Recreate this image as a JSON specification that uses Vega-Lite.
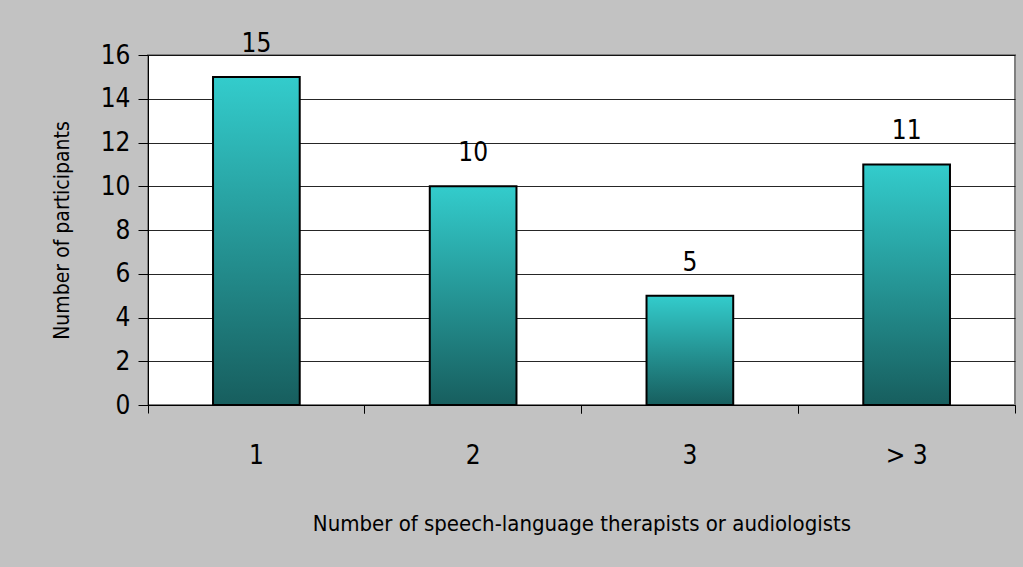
{
  "$schema": "https://vega.github.io/schema/vega-lite/v6.json",
  "width": 867,
  "height": 350,
  "autosize": "none",
  "padding": {"left": 148, "top": 55, "right": 8, "bottom": 162},
  "background": "#c2c2c2",
  "config": {
    "font": "Liberation Sans Narrow, DejaVu Sans Condensed, Roboto, sans-serif",
    "view": {"fill": "white", "stroke": "#808080", "strokeWidth": 2}
  },
  "data": {
    "values": [
      {"group": "1", "participants": 15},
      {"group": "2", "participants": 10},
      {"group": "3", "participants": 5},
      {"group": "> 3", "participants": 11}
    ]
  },
  "encoding": {
    "y": {
      "field": "participants",
      "type": "quantitative",
      "scale": {"domain": [0, 16]},
      "axis": {
        "title": "Number of participants",
        "titleFontSize": 21,
        "titleFontWeight": "normal",
        "titleColor": "black",
        "titleX": -86,
        "titleY": 175,
        "titleBaseline": "middle",
        "values": [0, 2, 4, 6, 8, 10, 12, 14, 16],
        "labelFontSize": 26,
        "labelColor": "black",
        "labelPadding": 8,
        "tickSize": 10,
        "tickColor": "black",
        "domainColor": "black",
        "grid": true,
        "gridColor": "black",
        "gridOpacity": 0.85
      }
    }
  },
  "layer": [
    {
      "mark": {
        "type": "bar",
        "stroke": "black",
        "strokeWidth": 2,
        "color": {
          "gradient": "linear",
          "x1": 0, "y1": 0, "x2": 0, "y2": 1,
          "stops": [
            {"offset": 0, "color": "#33CCCC"},
            {"offset": 1, "color": "#175E5E"}
          ]
        }
      },
      "encoding": {
        "x": {
          "field": "group",
          "type": "nominal",
          "sort": null,
          "scale": {"paddingInner": 0.6, "paddingOuter": 0.3},
          "axis": {
            "orient": "bottom",
            "title": "Number of speech-language therapists or audiologists",
            "titleFontSize": 22,
            "titleFontWeight": "normal",
            "titleColor": "black",
            "titleBaseline": "middle",
            "titleY": 118,
            "labelAngle": 0,
            "labelFontSize": 26,
            "labelColor": "black",
            "labelBaseline": "middle",
            "labelPadding": 42,
            "tickSize": 8,
            "tickColor": "black",
            "domainColor": "black",
            "bandPosition": 1.75,
            "grid": false
          }
        }
      }
    },
    {
      "mark": {"type": "text", "dy": -25, "baseline": "alphabetic", "fontSize": 26, "color": "black"},
      "encoding": {
        "x": {
          "field": "group",
          "type": "nominal",
          "sort": null,
          "axis": {
            "orient": "bottom",
            "title": null,
            "labels": false,
            "domain": false,
            "tickSize": 8,
            "tickColor": "black",
            "bandPosition": -0.75,
            "grid": false
          }
        },
        "text": {"field": "participants", "type": "quantitative"}
      }
    }
  ],
  "resolve": {"axis": {"x": "independent"}}
}
